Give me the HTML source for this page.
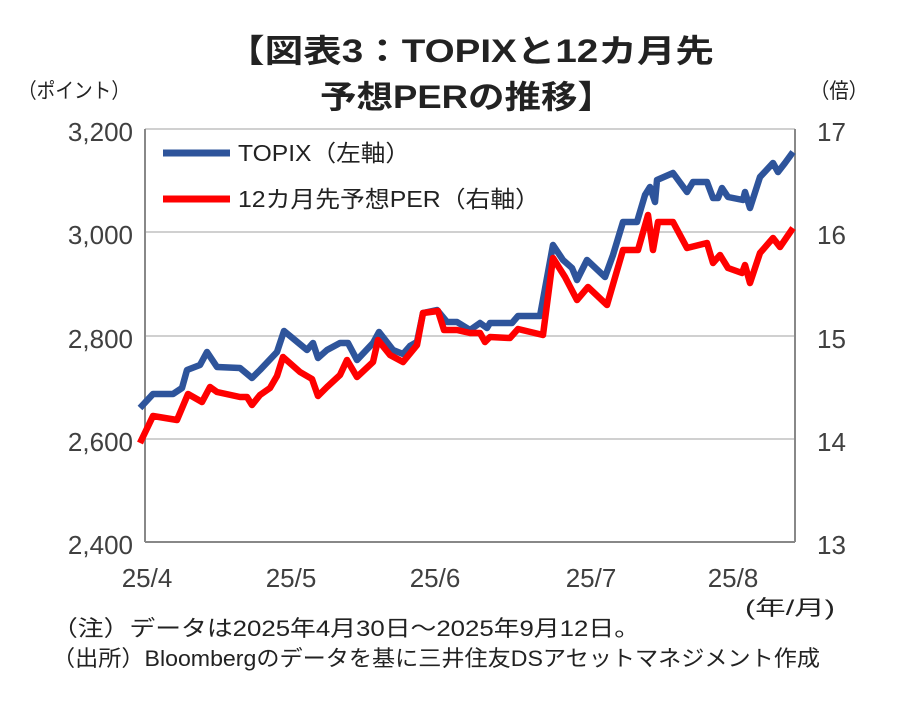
<!DOCTYPE html>
<html><head><meta charset="utf-8"><style>
body{margin:0;background:#fff;}
svg text{font-family:"Liberation Sans","Noto Sans CJK JP",sans-serif;}
</style></head><body>
<svg width="900" height="701" viewBox="0 0 900 701" xmlns="http://www.w3.org/2000/svg">
<rect width="900" height="701" fill="#fff"/>
<text x="226" y="62" font-size="32" font-weight="bold" fill="#222" textLength="488" lengthAdjust="spacingAndGlyphs">【図表3：TOPIXと12カ月先</text>
<text x="320" y="108" font-size="32" font-weight="bold" fill="#222" textLength="294" lengthAdjust="spacingAndGlyphs">予想PERの推移】</text>
<text x="18" y="98" font-size="21" fill="#222" textLength="112" lengthAdjust="spacingAndGlyphs">（ポイント）</text>
<text x="810" y="98" font-size="21" fill="#222" textLength="58" lengthAdjust="spacingAndGlyphs">（倍）</text>
<g stroke="#d0d0d0" stroke-width="2">
<line x1="145" y1="129" x2="795" y2="129"/>
<line x1="145" y1="232" x2="795" y2="232"/>
<line x1="145" y1="336" x2="795" y2="336"/>
<line x1="145" y1="439" x2="795" y2="439"/>
</g>
<g stroke="#888" stroke-width="2">
<line x1="145" y1="129" x2="145" y2="542"/>
<line x1="795" y1="129" x2="795" y2="542"/>
<line x1="145" y1="542" x2="795" y2="542"/>
</g>
<g font-size="26" fill="#404040" text-anchor="end">
<text x="133" y="141">3,200</text>
<text x="133" y="244">3,000</text>
<text x="133" y="348">2,800</text>
<text x="133" y="451">2,600</text>
<text x="133" y="554">2,400</text>
</g>
<g font-size="26" fill="#404040">
<text x="817" y="141">17</text>
<text x="817" y="244">16</text>
<text x="817" y="348">15</text>
<text x="817" y="451">14</text>
<text x="817" y="554">13</text>
</g>
<g font-size="26" fill="#404040" text-anchor="middle">
<text x="147" y="587">25/4</text>
<text x="291" y="587">25/5</text>
<text x="435" y="587">25/6</text>
<text x="591" y="587">25/7</text>
<text x="733" y="587">25/8</text>
</g>
<text x="745" y="615" font-size="21" fill="#222" textLength="90" lengthAdjust="spacingAndGlyphs">(年/月)</text>
<polyline fill="none" stroke="#2e549b" stroke-width="6.5" stroke-linejoin="round" points="140,408 153,394 173,394 182,388 187,370 200,365 207,352 217,367 240,368 252,378 260,370 277,352 284,331 307,350 313,343 318,358 327,350 340,343 348,343 357,360 373,343 379,332 393,350 403,354 410,346 417,342 423,313 437,310 447,322 457,322 470,330 480,323 487,328 490,323 512,323 518,316 540,316 553,245 563,260 572,268 577,280 587,260 605,277 613,255 623,222 637,222 645,195 650,187 655,202 657,180 673,173 687,192 693,182 707,182 713,198 718,198 722,188 728,197 743,200 745,192 750,208 760,177 773,163 778,172 785,163 793,152"/>
<polyline fill="none" stroke="#ff0000" stroke-width="6.5" stroke-linejoin="round" points="140,443 153,416 177,420 188,394 202,402 210,387 217,392 240,397 247,397 252,405 260,395 270,388 277,376 283,357 300,372 312,379 318,396 327,387 340,375 347,360 357,377 373,362 378,340 390,355 403,362 417,345 423,313 438,311 444,330 457,330 470,333 480,333 485,342 490,337 510,338 518,329 543,335 553,258 565,277 577,300 588,287 607,305 623,250 638,250 648,215 653,250 658,222 673,222 687,248 707,243 713,263 720,255 728,268 742,273 745,265 750,283 760,253 773,238 780,247 793,228"/>
<line x1="163" y1="153" x2="230" y2="153" stroke="#2e549b" stroke-width="7"/>
<text x="238" y="161" font-size="23" fill="#222" textLength="172" lengthAdjust="spacingAndGlyphs">TOPIX（左軸）</text>
<line x1="163" y1="199" x2="230" y2="199" stroke="#ff0000" stroke-width="7"/>
<text x="238" y="207" font-size="23" fill="#222" textLength="302" lengthAdjust="spacingAndGlyphs">12カ月先予想PER（右軸）</text>
<text x="52" y="636" font-size="22" fill="#222" textLength="588" lengthAdjust="spacingAndGlyphs">（注）データは2025年4月30日～2025年9月12日。</text>
<text x="52" y="666" font-size="22" fill="#222" textLength="768" lengthAdjust="spacingAndGlyphs">（出所）Bloombergのデータを基に三井住友DSアセットマネジメント作成</text>
</svg>
</body></html>
